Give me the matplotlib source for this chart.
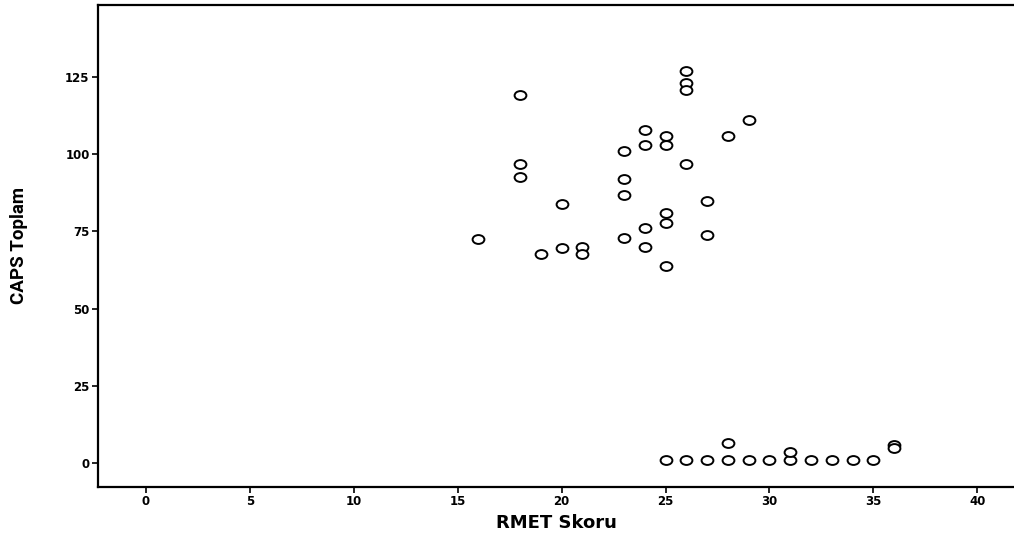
import matplotlib
matplotlib.use("Agg")
import matplotlib.pyplot as plt
import numpy as np
from matplotlib.path import Path
from matplotlib.markers import MarkerStyle

# Data
rmet = [16, 18, 18, 18, 19, 20, 20, 21, 21,
        23, 23, 23, 23, 24, 24, 24, 24,
        25, 25, 25, 25, 25, 26, 26, 26, 26,
        27, 27, 28, 29,
        25, 26, 27, 28, 28, 29, 30, 31, 31, 32, 33, 34, 35, 36, 36]
caps = [72.6, 119.3, 96.8, 92.7, 67.8, 83.8, 69.7, 70, 67.7,
        101, 91.9, 86.8, 73, 107.8, 103, 76, 70,
        105.9, 102.8, 80.9, 77.8, 63.8, 126.9, 122.9, 120.8, 96.8,
        84.9, 73.9, 105.9, 111.1,
        1, 1, 1, 1, 6.6, 1, 1, 1, 3.5, 1, 1, 1, 1, 5.9, 4.9]

xticks = [0, 5, 10, 15, 20, 25, 30, 35, 40]
yticks = [0, 25, 50, 75, 100, 125]

fig = plt.figure(figsize=(10.14, 5.38), dpi=100)
ax = fig.add_axes([98/1014, 1-487/538, 1-98/1014, (487-5)/538])

circ = Path.unit_circle()
ell = Path(circ.vertices * np.array([1.0, 0.75]), circ.codes)
ax.plot(rmet, caps, linestyle='none', marker=MarkerStyle(ell), markersize=8.5,
        markerfacecolor='white', markeredgecolor='black', markeredgewidth=1.4)

ax.set_xlim(-2.31, 41.77)
ax.set_ylim(-7.8, 148.3)
ax.set_xticks(xticks)
ax.set_yticks(yticks)
ax.tick_params(axis='both', direction='out', length=4, width=1.2, labelsize=8.5, pad=2)
for lab in ax.get_xticklabels() + ax.get_yticklabels():
    lab.set_fontweight('bold')
for s in ['left', 'bottom', 'top']:
    ax.spines[s].set_linewidth(1.6)
ax.spines['right'].set_visible(False)

ax.set_xlabel('RMET Skoru', fontsize=13, fontweight='bold', labelpad=4)
ax.set_ylabel('CAPS Toplam', fontsize=13.5, fontweight='bold', fontstretch='condensed',
              family=['Liberation Sans Narrow', 'Roboto', 'DejaVu Sans'], labelpad=27)

fig.savefig('out.png', dpi=100)
